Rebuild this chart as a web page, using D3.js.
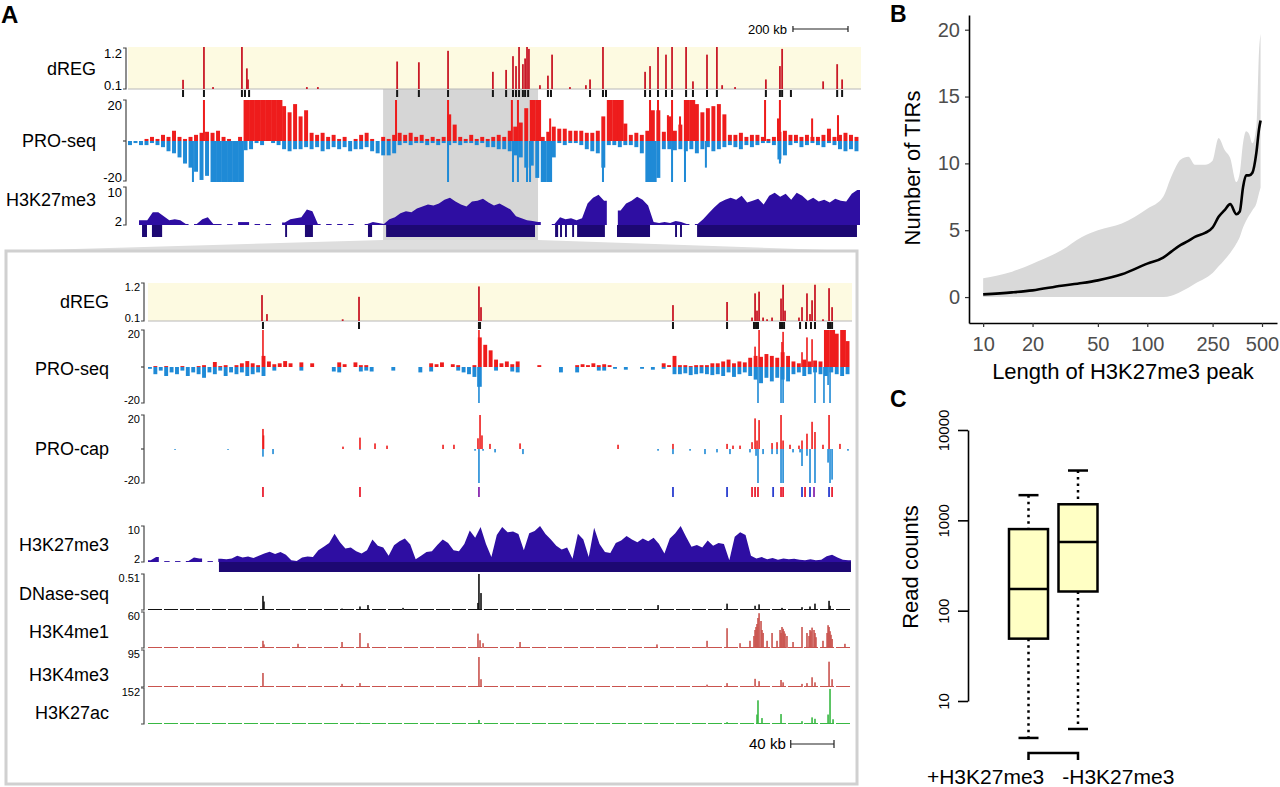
<!DOCTYPE html>
<html>
<head>
<meta charset="utf-8">
<script src="https://cdn.jsdelivr.net/npm/d3@7"></script>
<style>
  body { margin: 0; background: #fff; }
  svg { display: block; }
</style>
</head>
<body>
<div id="fig"></div>
<script>
// ---------------- data: panel A, overview (kb, 20 kb bins) ----------------
const topBinKb = 20;
const topSpanKb = 2660;
const hlStart = 927, hlEnd = 1490; // zoomed region

const dregTopPos = [200, 276, 414, 432, 436, 650, 978, 1057, 1163, 1326, 1374, 1399, 1410, 1421, 1435, 1443, 1450, 1457, 1526, 1541,
  1679, 1726, 1879, 1897, 1926, 1955, 1977, 2028, 2053, 2104, 2140, 2318, 2369, 2377, 2526, 2577, 2595,
  309, 690, 1497, 1606, 1664, 2159, 2206];
const dregTopVal = [0.34, 1.2, 1.2, 0.64, 0.35, 0.15, 0.82, 0.8, 1.1, 0.55, 0.6, 0.96, 0.7, 1.2, 0.75, 0.9, 1.2, 1.15, 0.45, 1.0,
  0.35, 1.2, 0.55, 0.7, 1.2, 1.0, 1.2, 1.2, 0.3, 1.0, 1.2, 0.35, 0.7, 1.15, 0.3, 0.75, 0.35,
  0.15, 0.15, 0.2, 0.15, 0.2, 0.2, 0.15];
const dregTopCalls = [200, 276, 414, 425, 440, 978, 1057, 1163, 1326, 1374, 1399, 1410, 1421, 1435, 1443, 1454, 1526, 1537,
  1679, 1726, 1737, 1879, 1897, 1926, 1955, 1977, 2028, 2053, 2104, 2140, 2318, 2369, 2377, 2409, 2577, 2595];

const proTopPlus = [0, 0, 0, 1, 2, 1, 3, 2, 5, 2, 1, 2, 3, 4, 4.5, 4, 5, 2, 1, 0, 2,
  20, 20, 20, 20, 20, 20, 20, 17, 14, 18, 12, 15, 4, 3, 4, 2, 3,
  1, 2, 0, 1, 3, 4, 1, 0, 2, 1, 3, 4, 3, 4, 2, 3, 1, 2, 1, 2, 13, 8,
  2, 1, 3, 1, 2, 1, 2, 3, 2, 5, 7, 9, 16, 20, 20, 2, 4.5,
  7, 6, 6, 5, 5, 5, 4, 4, 5, 12, 20, 20, 20, 8.5, 3, 4, 3, 5, 15, 15, 4.5, 12, 5, 8,
  20, 20, 18, 14, 16, 17, 18, 13, 3, 3, 4, 2, 3, 3, 2, 1, 2, 4.5, 5,
  3, 3, 2, 3, 2, 2, 3, 6, 2, 3, 4, 3, 2];
const proTopMinus = [2, 1, 2, 2, 1, 2, 3, 5, 6, 8, 11, 13, 15, 19, 17, 20, 20, 20, 20, 20, 20, 4.5, 4,
  1, 2, 0, 1, 2, 4, 5, 4, 4, 3, 4, 3, 5, 4, 3, 4, 3, 5, 4, 4, 3, 5, 6, 7, 7, 6,
  2, 1, 2, 1, 1, 2, 1, 2, 1, 2, 1, 2, 1, 1, 2, 1, 3, 3, 4, 4, 5, 7, 8, 13, 12, 18, 20, 20, 8,
  1, 2, 1, 1, 2, 4, 5, 6, 13, 2, 2, 3, 2, 2, 3, 6, 20, 20, 18, 4, 4, 4.5, 4,
  5, 4, 6, 4, 3, 5, 4, 3, 2, 3, 4, 2, 3, 2, 1, 1, 2, 9, 7, 2, 1, 3, 2, 1, 2, 3, 1, 2, 4, 5, 4, 5];
const proTopPlusSpikePos = [276, 974, 1163, 1395, 1417, 1534, 1897, 1926, 1962, 1977, 2006, 2315, 2362, 2369, 2486, 2580];
const proTopPlusSpikeVal = [20, 20, 20, 20, 20, 11, 20, 20, 12.6, 20, 12, 20, 11, 20, 11, 12.6];
const proTopMinusSpikePos = [236, 1163, 1399, 1417, 1450, 1461, 1726, 1977, 2024, 2100, 2369];
const proTopMinusSpikeVal = [20, 20, 20, 20, 20, 20, 20, 20, 20, 13, 11];

const h3TopSignal = [0, 0, 3, 3, 4.6, 4.6, 3.8, 3, 3.2, 3, 2.2, 0, 2.2, 3.2, 3.6, 2.2, 2.2, 0, 2.2, 0, 2.6, 2.6,
  0, 2.2, 0, 2.2, 0, 0, 2.5, 3.2, 3.4, 3.6, 5.2, 4.8, 2.2, 0, 2.2, 0, 2.2, 0, 2.2, 0, 0, 2.2, 2.6, 2.4,
  2.2, 3.2, 3.6, 4.4, 4.8, 4.6, 5.4, 5.8, 6.2, 6.0, 6.4, 7.2, 7.6, 6.8, 6.2, 5.8, 6.8, 7.0, 7.4, 6.6,
  6.0, 6.4, 5.8, 5.2, 3.8, 3.4, 3.0, 2.8, 2.6, 0, 0, 2.2, 3.6, 3.2, 3.4, 3.0, 3.4, 6.4, 7.6, 8.2, 7.0, 0, 0,
  5.0, 6.4, 7.0, 7.8, 7.2, 6.0, 2.6, 2.4, 2.6, 2.4, 2.8, 2.6, 2.2, 0, 2.2, 3.2, 4.4, 5.6, 6.6, 7.2,
  7.6, 7.2, 8.0, 6.6, 7.0, 7.4, 6.2, 8.0, 8.6, 7.8, 8.4, 7.2, 8.6, 8.0, 7.0, 7.6, 6.8, 7.2, 6.6, 7.4, 7.0, 6.8, 8.4, 9.2];
const h3TopCallStart = [51, 87, 571, 643, 872, 938, 1552, 1570, 1588, 1614, 1632, 1777, 1988, 2006, 2068];
const h3TopCallEnd = [69, 124, 578, 672, 887, 1479, 1563, 1577, 1595, 1621, 1733, 1897, 1995, 2013, 2649];

// ---------------- data: panel A, zoomed region (kb, 5 kb bins) ----------------
const lowBinKb = 5;
const lowSpanKb = 650;

const dregLowPos = [105.4, 110, 180, 195.1, 306, 307.9, 485.4, 535.4, 558.5, 561.3, 563.1, 565, 568.7, 572.4, 577, 585.3, 587.2, 589,
  601.9, 604.7, 609.3, 612.1, 614, 616.7, 624.1, 629.7, 632.5];
const dregLowVal = [0.85, 0.3, 0.15, 0.8, 1.1, 0.5, 0.56, 0.65, 0.2, 0.9, 0.4, 0.95, 0.2, 0.15, 0.2, 0.75, 1.15, 0.4,
  0.2, 0.5, 0.9, 0.3, 0.7, 1.15, 0.15, 1.05, 0.5];
const dregLowCalls = [106.3, 195.1, 306, 307, 485.4, 535.4, 560.3, 562.2, 564, 584.4, 586.2, 588.1, 602.9, 608.4, 613, 616.7, 628.8, 630.6, 632.5];

const proLowPlus = [0, 0.5, 0, 0.5, 0, 0, 0.5, 0, 0, 0.5, 1, 0, 2.7, 0.5, 1, 0, 1, 2, 3.2, 2, 1, 6, 3, 1.5, 2, 3.2,
  2, 0, 2.5, 0, 2, 0, 0, 0, 0, 2.5, 1.5, 0, 2.5, 1, 1, 0, 0, 0, 0, 0, 0, 0, 0, 0, 0, 0,
  2, 1.5, 2.5, 0, 1.5, 1, 0, 0, 1, 16, 12, 9, 4, 2, 3, 1.5, 3, 0, 0, 0, 1, 0, 0, 0, 0, 0, 0, 1,
  1.5, 1, 2, 1, 1.5, 1, 0, 0, 0, 0, 0, 0, 0, 0, 0, 2, 1, 6, 1, 1, 0.5, 1, 1, 1, 2,
  2, 3, 4, 2, 3, 2.5, 5, 6, 5.5, 7, 6, 5, 8, 6, 3, 2, 4, 3, 3.5, 3, 20, 20, 18, 20, 14];
const proLowMinus = [1, 4, 2, 5, 3, 4, 2, 5, 3, 4, 6, 3, 4, 2, 5, 3, 4, 3, 5, 4, 3, 5, 0, 2,
  0, 0, 0, 0, 2, 0, 0, 0, 0, 0, 2.5, 3, 0, 0, 0, 2.5, 2, 2.5, 0, 0, 0, 2, 0, 0, 0, 0,
  3, 0, 2.5, 0, 0, 0, 0, 2, 3, 4, 5.5, 11, 0, 0, 2, 0, 0, 2.5, 3, 0, 0, 0, 0, 0, 0, 0, 3, 0, 0, 3,
  0, 0, 0, 2, 2, 0, 1, 0, 1.5, 0, 0, 1, 0, 1.5, 0, 1, 0, 4, 4, 3.5, 4.5, 4, 3.5, 4, 4.5,
  4, 5, 3, 5.5, 4, 3, 5, 7, 9, 6, 8, 6, 7, 8, 4, 3, 5, 4, 3, 4, 5, 3, 4, 5, 4];
const proLowPlusSpikePos = [106.3, 306, 561.3, 565, 586.2, 587.2, 604.7, 609.3, 614];
const proLowPlusSpikeVal = [20, 20, 11, 20, 13.5, 19, 8, 16, 15];
const proLowMinusSpikePos = [305.1, 306, 564, 585.3, 587.2, 616.7, 625, 628.8, 630.6];
const proLowMinusSpikeVal = [11, 20, 20, 20, 20, 20, 20, 10, 20];

const capPlusPos = [106.3, 106.8, 180.3, 196, 209.9, 221, 272.8, 282.9, 305.1, 307, 308.8, 316.2, 344, 434.6, 485.4, 535.4, 540.9, 547.4,
  558.5, 561.3, 563.1, 565, 577, 581.6, 585.3, 587.2, 593.6, 601.9, 604.7, 609.3, 614, 616.7, 624.1, 629.7, 639.8];
const capPlusVal = [11.8, 8, 1.4, 6.7, 3.3, 2, 2.5, 2.5, 6.3, 20, 8, 3, 3.3, 2.5, 3, 3, 2, 2,
  4, 18, 5, 17, 3.5, 4, 20, 5, 2.5, 2, 5, 9, 16, 10, 2.5, 20, 3];
const capMinusPos = [25, 74, 106.3, 115.6, 196, 302.4, 306, 309.8, 320.9, 346.7, 471.6, 485.4, 501.2, 515, 526.1, 538.1, 556.6,
  562.2, 564, 568.7, 577, 581.6, 585.3, 587.2, 596.4, 602.9, 604.7, 609.3, 612.1, 616.7, 628.8, 630.6, 632.5, 647.2];
const capMinusVal = [0.5, 0.5, 4.5, 3, 0.5, 1, 20, 1, 2, 3, 1, 3, 1, 3, 2, 3, 2,
  4, 20, 3, 3, 3, 20, 20, 2, 2, 10, 4, 20, 20, 8, 20, 18, 1];

const tirCallPos = [106.3, 196, 306, 485.4, 535.4, 558.5, 561.3, 564, 578, 585.3, 587.2, 604.7, 607.5, 612.1, 615.8, 629.7, 632.5];
const tirCallStrand = ["+", "+", "b", "-", "-", "+", "+", "+", "-", "+", "+", "-", "+", "-", "b", "-", "+"];

const h3LowSignal = [2.4, 3.1, 0, 2.2, 0, 2.2, 0, 2.2, 3.0, 2.8, 0, 2.2, 0, 2.7, 2.6, 2.8, 3.4, 3.0, 3.2, 2.9, 3.4,
  3.9, 4.3, 3.8, 4.2, 3.6, 2.4, 2.2, 3.0, 3.2, 3.1, 4.6, 5.4, 6.2, 8.3, 6.4, 5.0, 5.2, 4.4, 3.9, 4.6, 7.0,
  5.6, 5.2, 3.4, 5.7, 6.6, 7.2, 5.9, 2.6, 3.4, 4.2, 4.4, 5.8, 7.0, 6.2, 4.6, 4.4, 6.0, 9.0, 7.4, 9.8, 6.0, 3.1,
  8.0, 9.8, 8.6, 8.8, 8.2, 4.6, 8.4, 8.9, 10, 8.2, 7.0, 5.6, 4.8, 5.2, 2.7, 8.3, 7.0, 3.1, 9.6, 6.0, 4.2, 4.0,
  6.2, 6.8, 7.8, 7.0, 6.4, 7.2, 6.6, 7.4, 6.0, 3.9, 7.2, 8.4, 10, 7.6, 5.4, 5.8, 5.2, 6.8, 5.6, 6.2, 6.0, 2.4,
  7.6, 8.6, 8.0, 3.4, 2.8, 3.1, 2.6, 2.9, 2.5, 2.8, 2.6, 2.7, 2.5, 2.4, 2.6, 2.4, 2.5, 3.3, 3.6, 3.0, 2.5, 2.4];
const h3LowCallStart = [65.6];
const h3LowCallEnd = [650];

const dnasePos = [106.3, 107.2, 179.4, 196, 203.4, 235.8, 305.1, 306, 307.9, 471.6, 535.4, 561.3, 565, 586.2, 604.7, 612.1, 616.7, 629.7, 630.6];
const dnaseVal = [0.2, 0.12, 0.02, 0.05, 0.07, 0.03, 0.1, 0.51, 0.24, 0.07, 0.09, 0.06, 0.08, 0.03, 0.04, 0.05, 0.09, 0.13, 0.06];
const me1Pos = [106.3, 107.2, 138.7, 179.4, 196, 203.4, 305.1, 307, 309.8, 344, 470.6, 516.9, 535.4, 547.4, 556.6, 561.3, 563.1, 565, 566.8, 568.7,
  572.4, 577, 581.6, 584.4, 586.2, 588.1, 590.8, 596.4, 604.7, 609.3, 612.1, 614, 616.7, 624.1, 628.8, 629.7, 630.6, 644.4,
  560.3, 562.2, 564, 567.7, 585.3, 587.2, 589, 611.2, 613, 615.8, 617.6, 627.9, 631.5, 632.5];
const me1Val = [12, 6, 7, 10, 25, 8, 24, 13, 8, 10, 6, 12, 33, 8, 12, 30, 40, 58, 45, 25,
  12, 25, 12, 30, 35, 28, 20, 10, 35, 25, 30, 34, 25, 12, 38, 35, 28, 7,
  20, 35, 50, 30, 25, 32, 24, 20, 28, 30, 18, 25, 22, 15];
const me3Pos = [106.3, 179.4, 196, 306, 307.9, 516.9, 535.4, 561.3, 565, 585.3, 587.2, 604.7, 609.3, 614, 616.7, 629.7, 632.5];
const me3Val = [36, 8, 10, 77, 20, 6, 10, 21, 15, 18, 12, 8, 10, 25, 12, 65, 20];
const acPos = [196, 306, 535.4, 563.1, 564, 567.7, 585.3, 604.7, 614, 616.7, 628.8, 630.6, 633.4];
const acVal = [5, 17, 8, 40, 100, 25, 42, 12, 28, 22, 40, 148, 20];

// ---------------- data: panel B ----------------
const tirLen = [10, 15, 20, 30, 40, 50, 70, 100, 125, 140, 160, 178, 195, 225, 250, 272, 296, 320, 349, 366, 383, 400, 417, 437, 462, 480, 490];
const tirMean = [0.2, 0.35, 0.5, 0.85, 1.05, 1.25, 1.7, 2.5, 2.95, 3.4, 3.9, 4.2, 4.5, 4.8, 5.2, 6.0, 6.5, 6.95, 6.2, 6.4, 8.2, 9.1, 9.1, 9.3, 10.8, 12.6, 13.2];
const tirLow = [0, 0, 0, 0, 0, 0, 0, 0, 0, 0.1, 0.4, 0.7, 1.0, 1.4, 1.8, 2.3, 2.8, 3.3, 4.0, 4.5, 5.2, 5.7, 6.1, 6.5, 7.0, 7.8, 8.2];
const tirHigh = [1.4, 1.9, 2.5, 3.5, 4.5, 5.0, 5.5, 6.6, 7.5, 9.0, 10.3, 10.5, 9.9, 9.9, 10.2, 11.9, 11.0, 10.4, 8.6, 9.3, 11.5, 12.4, 12.2, 11.5, 12.8, 18.5, 19.7];
const tirXTicks = [10, 20, 50, 100, 250, 500];
const tirYTicks = [0, 5, 10, 15, 20];

// ---------------- data: panel C ----------------
const boxGroups = ["+H3K27me3", "-H3K27me3"];
const boxLowWhisker = [3.9, 4.9];
const boxQ1 = [49, 163];
const boxMedian = [174, 574];
const boxQ3 = [800, 1506];
const boxHighWhisker = [1900, 3560];
const readTicks = [10, 100, 1000, 10000];

// ---------------- drawing ----------------
const FONT = "'Liberation Sans', Arial, Helvetica, sans-serif";
const RED = "#ee1c1c", BLUE = "#1f8ad6", NAVY = "#2e0ea2", NAVY_DARK = "#1d0873";

const svg = d3.select("#fig").append("svg")
  .attr("width", 1280).attr("height", 787)
  .style("font-family", FONT);

// panel letters
svg.append("text").attr("x", 1).attr("y", 23).attr("font-size", 24).attr("font-weight", "bold").text("A");
svg.append("text").attr("x", 890).attr("y", 22).attr("font-size", 23).attr("font-weight", "bold").text("B");
svg.append("text").attr("x", 890).attr("y", 407).attr("font-size", 23).attr("font-weight", "bold").text("C");

const xTop = d3.scaleLinear().domain([0, topSpanKb]).range([128, 860]);
const xLow = d3.scaleLinear().domain([0, lowSpanKb]).range([148, 851]);

// bracket style data axis used by the genome browser tracks
function bracket(g, x, y0, y1, topLab, botLab, size, mid) {
  g.append("path")
    .attr("d", `M${x - 3},${y0}H${x}V${y1}H${x - 3}`)
    .attr("fill", "none").attr("stroke", "#444").attr("stroke-width", 1.2);
  if (mid != null) {
    g.append("line").attr("x1", x - 3).attr("x2", x).attr("y1", mid).attr("y2", mid)
      .attr("stroke", "#444").attr("stroke-width", 1.2);
  }
  g.append("text").attr("x", x - 4).attr("y", y0 + size * 0.75)
    .attr("text-anchor", "end").attr("font-size", size).text(topLab);
  if (botLab) {
    g.append("text").attr("x", x - 4).attr("y", y1 + 1)
      .attr("text-anchor", "end").attr("font-size", size).text(botLab);
  }
}

function trackLabel(g, x, y, text) {
  g.append("text").attr("x", x).attr("y", y).attr("dy", "0.35em")
    .attr("text-anchor", "end").attr("font-size", 18).text(text);
}

function dregTrack(g, xs, y0, y1, pos, val, calls) {
  const y = d3.scaleLinear().domain([0.1, 1.2]).range([y1, y0]);
  const [r0, r1] = xs.range();
  g.append("rect").attr("x", r0).attr("y", y0).attr("width", r1 - r0 + 1).attr("height", y1 - y0).attr("fill", "#fdfae1");
  g.append("line").attr("x1", r0).attr("x2", r1 + 1).attr("y1", y1).attr("y2", y1)
    .attr("stroke", "#b8b8b8").attr("stroke-width", 1);
  g.selectAll(null).data(d3.zip(pos, val)).join("rect")
    .attr("x", d => xs(d[0]) - 0.9).attr("width", 1.8)
    .attr("y", d => y(d[1])).attr("height", d => y1 - y(d[1]))
    .attr("fill", "#c91a28");
  g.selectAll(null).data(calls).join("rect")
    .attr("x", d => xs(d) - 1).attr("width", 2)
    .attr("y", y1 + 1).attr("height", 7).attr("fill", "#151515");
}

// binned strand signal, y maps value -> pixel (plus upward, minus downward);
// clipped bins stay solid, the rest get a hairline gap so the track reads as spikes
function binBars(g, xs, y, bins, binKb, color) {
  const zero = y(0);
  const bw = xs(binKb) - xs(0);
  g.selectAll(null).data(bins).join("rect")
    .attr("x", (d, i) => xs(i * binKb))
    .attr("width", d => d >= 20 ? bw + 0.3 : bw * 0.72)
    .attr("y", d => Math.min(zero, y(Math.min(d, 20))))
    .attr("height", d => Math.abs(y(Math.min(d, 20)) - zero))
    .attr("fill", color);
}

function spikes(g, xs, y, pos, val, color, w) {
  const zero = y(0);
  g.selectAll(null).data(d3.zip(pos, val)).join("rect")
    .attr("x", d => xs(d[0]) - w / 2).attr("width", w)
    .attr("y", d => Math.min(zero, y(Math.min(d[1], y.domain()[1]))))
    .attr("height", d => Math.abs(y(Math.min(d[1], y.domain()[1])) - zero))
    .attr("fill", color);
}

// H3K27me3 coverage as filled mountains, broken where there is no signal
function signalArea(g, xs, y, bins, binKb, color) {
  const runs = [];
  let cur = null;
  bins.forEach((v, i) => {
    if (v > 0) {
      if (!cur) { cur = []; runs.push(cur); }
      cur.push({ kb: i * binKb + binKb / 2, v });
    } else cur = null;
  });
  const area = d3.area().x(d => xs(d.kb)).y0(y(2)).y1(d => y(d.v));
  runs.forEach(r => {
    const pts = [{ kb: r[0].kb - binKb / 2, v: r[0].v }, ...r, { kb: r[r.length - 1].kb + binKb / 2, v: r[r.length - 1].v }];
    g.append("path").attr("d", area(pts)).attr("fill", color);
  });
}

function callBand(g, xs, starts, ends, yTop, h) {
  g.selectAll(null).data(d3.zip(starts, ends)).join("rect")
    .attr("x", d => xs(d[0])).attr("width", d => Math.max(1.5, xs(d[1]) - xs(d[0])))
    .attr("y", yTop).attr("height", h).attr("fill", NAVY_DARK);
}

function chipTrack(g, xs, y0, y1, max, pos, val, color) {
  const y = d3.scaleLinear().domain([0, max]).range([y1, y0]);
  g.append("line").attr("x1", xs.range()[0]).attr("x2", xs.range()[1])
    .attr("y1", y1 - 0.5).attr("y2", y1 - 0.5)
    .attr("stroke", color).attr("stroke-width", 1).attr("stroke-dasharray", "14,2");
  spikes(g, xs, y, pos, val, color, 1.6);
}

// ---- overview tracks ----
const gTop = svg.append("g");

// highlighted zoom window and the wedge down to the zoom box
gTop.append("path")
  .attr("d", `M${xTop(hlStart)},240L${xTop(hlEnd)},240L857,251L6,251Z`)
  .attr("fill", "#dedede");
gTop.append("rect").attr("x", xTop(hlStart)).attr("y", 89)
  .attr("width", xTop(hlEnd) - xTop(hlStart)).attr("height", 151).attr("fill", "#d6d6d6");

// scale bar
const sbRight = 848;
const sbLen = xTop(200) - xTop(0);
gTop.append("path").attr("d", `M${sbRight - sbLen},26V32M${sbRight - sbLen},29H${sbRight}M${sbRight},26V32`)
  .attr("stroke", "#222").attr("stroke-width", 1.2).attr("fill", "none");
gTop.append("text").attr("x", sbRight - sbLen - 6).attr("y", 34).attr("text-anchor", "end")
  .attr("font-size", 13).text("200 kb");

dregTrack(gTop, xTop, 47, 89, dregTopPos, dregTopVal, dregTopCalls);
bracket(gTop, 126, 48, 89, "1.2", "0.1", 13);
trackLabel(gTop, 96, 69, "dREG");

const yTopPlus = d3.scaleLinear().domain([0, 20]).range([141, 100]);
const yTopMinus = d3.scaleLinear().domain([0, 20]).range([141, 182]);
binBars(gTop, xTop, yTopPlus, proTopPlus, topBinKb, RED);
binBars(gTop, xTop, yTopMinus, proTopMinus, topBinKb, BLUE);
spikes(gTop, xTop, yTopPlus, proTopPlusSpikePos, proTopPlusSpikeVal, RED, 2);
spikes(gTop, xTop, yTopMinus, proTopMinusSpikePos, proTopMinusSpikeVal, BLUE, 2);
bracket(gTop, 126, 100, 181, "20", "-20", 13, 141);
trackLabel(gTop, 96, 141, "PRO-seq");

const yTopH3 = d3.scaleLinear().domain([2, 10]).range([225, 186]);
signalArea(gTop, xTop, yTopH3, h3TopSignal, topBinKb, NAVY);
callBand(gTop, xTop, h3TopCallStart, h3TopCallEnd, 225, 12);
bracket(gTop, 126, 187, 225, "10", "2", 13);
trackLabel(gTop, 96, 200, "H3K27me3");

// ---- zoomed tracks ----
const gLow = svg.append("g");
gLow.append("rect").attr("x", 6).attr("y", 251).attr("width", 851).attr("height", 533)
  .attr("fill", "none").attr("stroke", "#d0d0d0").attr("stroke-width", 3);

dregTrack(gLow, xLow, 283, 321, dregLowPos, dregLowVal, dregLowCalls);
bracket(gLow, 144, 283, 321, "1.2", "0.1", 11);
trackLabel(gLow, 109, 302, "dREG");

const yLowPlus = d3.scaleLinear().domain([0, 20]).range([367, 330]);
const yLowMinus = d3.scaleLinear().domain([0, 20]).range([367, 403]);
binBars(gLow, xLow, yLowPlus, proLowPlus, lowBinKb, RED);
binBars(gLow, xLow, yLowMinus, proLowMinus, lowBinKb, BLUE);
spikes(gLow, xLow, yLowPlus, proLowPlusSpikePos, proLowPlusSpikeVal, RED, 1.6);
spikes(gLow, xLow, yLowMinus, proLowMinusSpikePos, proLowMinusSpikeVal, BLUE, 1.6);
bracket(gLow, 144, 330, 403, "20", "-20", 11, 367);
trackLabel(gLow, 109, 369, "PRO-seq");

const yCapPlus = d3.scaleLinear().domain([0, 20]).range([449, 415]);
const yCapMinus = d3.scaleLinear().domain([0, 20]).range([449, 483]);
spikes(gLow, xLow, yCapPlus, capPlusPos, capPlusVal, RED, 1.6);
spikes(gLow, xLow, yCapMinus, capMinusPos, capMinusVal, BLUE, 1.6);
bracket(gLow, 144, 415, 483, "20", "-20", 11, 449);
trackLabel(gLow, 109, 449, "PRO-cap");

const strandColor = { "+": "#ea2233", "-": "#2b3fd0", "b": "#8a2bb0" };
gLow.selectAll(null).data(d3.zip(tirCallPos, tirCallStrand)).join("rect")
  .attr("x", d => xLow(d[0]) - 0.9).attr("width", 1.8)
  .attr("y", 487).attr("height", 10)
  .attr("fill", d => strandColor[d[1]]);

const yLowH3 = d3.scaleLinear().domain([2, 10]).range([562, 526]);
signalArea(gLow, xLow, yLowH3, h3LowSignal, lowBinKb, NAVY);
callBand(gLow, xLow, h3LowCallStart, h3LowCallEnd, 562, 10);
bracket(gLow, 144, 526, 562, "10", "2", 11);
trackLabel(gLow, 109, 545, "H3K27me3");

chipTrack(gLow, xLow, 574, 610, 0.51, dnasePos, dnaseVal, "#111");
bracket(gLow, 144, 574, 610, "0.51", "", 11);
trackLabel(gLow, 109, 594, "DNase-seq");

chipTrack(gLow, xLow, 612, 648, 60, me1Pos, me1Val, "#c9534e");
bracket(gLow, 144, 612, 648, "60", "", 11);
trackLabel(gLow, 109, 632, "H3K4me1");

chipTrack(gLow, xLow, 650, 687, 95, me3Pos, me3Val, "#c9534e");
bracket(gLow, 144, 650, 687, "95", "", 11);
trackLabel(gLow, 109, 675, "H3K4me3");

chipTrack(gLow, xLow, 688, 724, 152, acPos, acVal, "#38b843");
bracket(gLow, 144, 688, 724, "152", "", 11);
trackLabel(gLow, 109, 713, "H3K27ac");

const sb2Right = 834;
const sb2Len = xLow(40) - xLow(0);
gLow.append("path").attr("d", `M${sb2Right - sb2Len},740V748M${sb2Right - sb2Len},744H${sb2Right}M${sb2Right},740V748`)
  .attr("stroke", "#222").attr("stroke-width", 1.2).attr("fill", "none");
gLow.append("text").attr("x", sb2Right - sb2Len - 5).attr("y", 749).attr("text-anchor", "end")
  .attr("font-size", 15).text("40 kb");

// ---------------- panel B ----------------
const xB = d3.scaleLog().domain([8.2, 617]).range([969, 1277]);
const yB = d3.scaleLinear().domain([-1.94, 21.1]).range([323, 15]);
const gB = svg.append("g");
const tirRows = tirLen.map((l, i) => ({ l, m: tirMean[i], lo: tirLow[i], hi: tirHigh[i] }));

gB.append("path").datum(tirRows)
  .attr("d", d3.area().x(d => xB(d.l)).y0(d => yB(d.lo)).y1(d => yB(d.hi)).curve(d3.curveMonotoneX))
  .attr("fill", "#d9d9d9");
gB.append("path").datum(tirRows)
  .attr("d", d3.line().x(d => xB(d.l)).y(d => yB(d.m)).curve(d3.curveMonotoneX))
  .attr("fill", "none").attr("stroke", "#000").attr("stroke-width", 2.6);

const axB = gB.append("g").attr("transform", "translate(0,323)")
  .call(d3.axisBottom(xB).tickValues(tirXTicks).tickFormat(d3.format("d")).tickSize(4).tickPadding(10).tickSizeOuter(0));
const ayB = gB.append("g").attr("transform", "translate(969,0)")
  .call(d3.axisLeft(yB).tickValues(tirYTicks).tickSize(4).tickPadding(5).tickSizeOuter(0));
[axB, ayB].forEach(a => {
  a.attr("font-family", FONT).attr("font-size", 20);
  a.selectAll("text").attr("fill", "#4d4d4d");
  a.select(".domain").attr("stroke", "#000").attr("stroke-width", 1.6);
  a.selectAll(".tick line").attr("stroke", "#333").attr("stroke-width", 1.2);
});
gB.append("text").attr("x", 1123).attr("y", 379).attr("text-anchor", "middle")
  .attr("font-size", 22).text("Length of H3K27me3 peak");
gB.append("text").attr("transform", "translate(920,168) rotate(-90)").attr("text-anchor", "middle")
  .attr("font-size", 22).text("Number of TIRs");

// ---------------- panel C ----------------
const yC = d3.scaleLog().domain([10, 10000]).range([701, 430]);
const xC = d3.scalePoint().domain(boxGroups).range([1028.5, 1078]);
const gC = svg.append("g");
const ayC = gC.append("g").attr("transform", "translate(968,0)")
  .call(d3.axisLeft(yC).tickValues(readTicks).tickFormat(d3.format("d")).tickSize(10).tickSizeOuter(0));
ayC.attr("font-family", FONT).attr("font-size", 15);
ayC.selectAll("path, line").attr("stroke", "#000").attr("stroke-width", 1.6);
ayC.selectAll("text").attr("x", null).attr("dy", null).attr("fill", "#000")
  .attr("text-anchor", "middle").attr("transform", "translate(-19,0) rotate(-90)");
gC.append("text").attr("transform", "translate(918,567) rotate(-90)").attr("text-anchor", "middle")
  .attr("font-size", 22).text("Read counts");

const boxW = 39, capW = 20;
const boxes = boxGroups.map((g, i) => ({
  g, lo: boxLowWhisker[i], q1: boxQ1[i], med: boxMedian[i], q3: boxQ3[i], hi: boxHighWhisker[i]
}));
const bx = gC.selectAll(".box").data(boxes).join("g").attr("class", "box")
  .attr("transform", d => `translate(${xC(d.g)},0)`);
bx.append("line").attr("y1", d => yC(d.hi)).attr("y2", d => yC(d.q3))
  .attr("stroke", "#000").attr("stroke-width", 2.5).attr("stroke-dasharray", "2.5,4");
bx.append("line").attr("y1", d => yC(d.q1)).attr("y2", d => yC(d.lo))
  .attr("stroke", "#000").attr("stroke-width", 2.5).attr("stroke-dasharray", "2.5,4");
bx.append("line").attr("x1", -capW / 2).attr("x2", capW / 2).attr("y1", d => yC(d.hi)).attr("y2", d => yC(d.hi))
  .attr("stroke", "#000").attr("stroke-width", 2.5);
bx.append("line").attr("x1", -capW / 2).attr("x2", capW / 2).attr("y1", d => yC(d.lo)).attr("y2", d => yC(d.lo))
  .attr("stroke", "#000").attr("stroke-width", 2.5);
bx.append("rect").attr("x", -boxW / 2).attr("width", boxW)
  .attr("y", d => yC(d.q3)).attr("height", d => yC(d.q1) - yC(d.q3))
  .attr("fill", "#ffffc4").attr("stroke", "#000").attr("stroke-width", 2.5);
bx.append("line").attr("x1", -boxW / 2).attr("x2", boxW / 2).attr("y1", d => yC(d.med)).attr("y2", d => yC(d.med))
  .attr("stroke", "#000").attr("stroke-width", 2.5);

const cA = xC(boxGroups[0]), cB = xC(boxGroups[1]), cMid = (cA + cB) / 2;
gC.append("path").attr("d", `M${cA},760V753H${cB}V760`).attr("fill", "none")
  .attr("stroke", "#000").attr("stroke-width", 2.5);
gC.append("text").attr("x", cMid - 9).attr("y", 784).attr("text-anchor", "end").attr("font-size", 21).text(boxGroups[0]);
gC.append("text").attr("x", cMid + 9).attr("y", 784).attr("text-anchor", "start").attr("font-size", 21).text(boxGroups[1]);
</script>
</body>
</html>
